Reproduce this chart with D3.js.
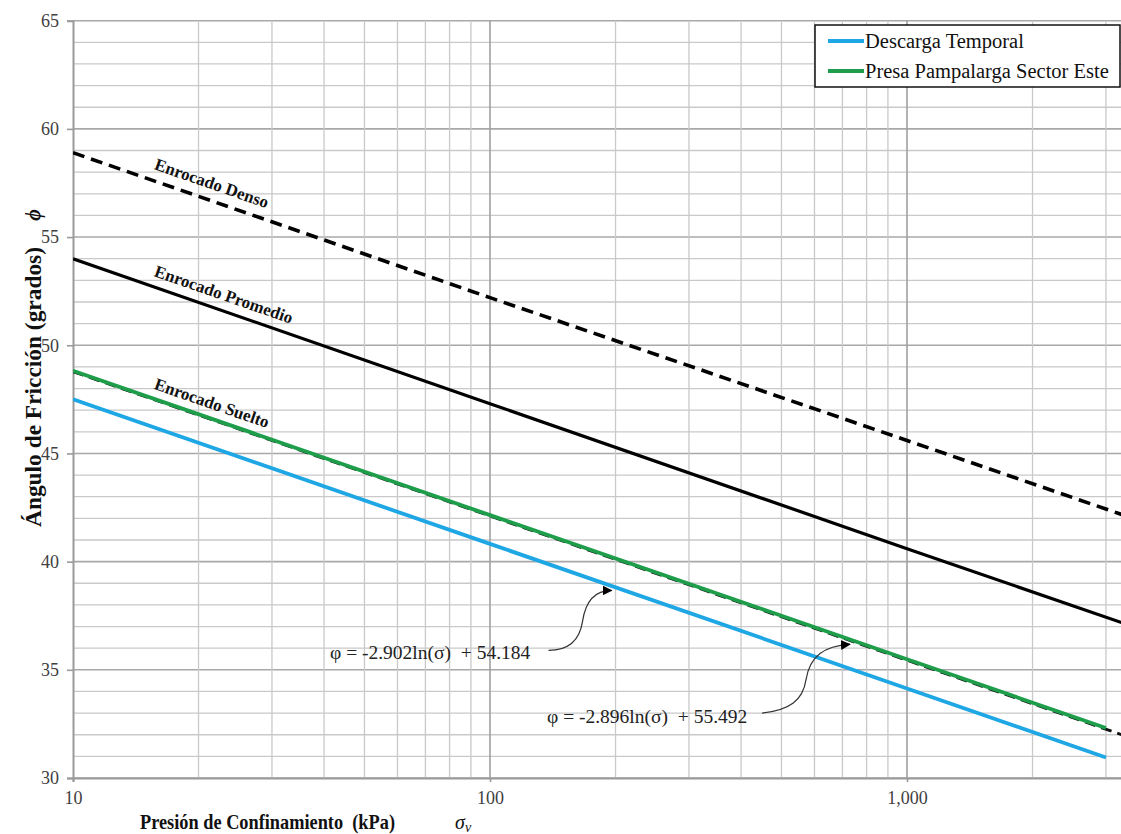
<!DOCTYPE html>
<html><head><meta charset="utf-8">
<script src="https://cdn.jsdelivr.net/npm/d3@7"></script>
<style>body{margin:0;background:#fff}svg{display:block}</style>
</head><body>
<svg id="c" width="1121" height="834"></svg>
<script>
// ---- data ----
const sigma = [10, 100, 1000, 3000];
const descargaTemporal = [47.50, 40.82, 34.14, 30.95];
const presaPampalarga = [48.82, 42.15, 35.49, 32.31];
const sigmaRef = [10, 100, 1000, 4000];
const enrocadoDenso = [58.9, 52.2, 45.6, 41.6];
const enrocadoPromedio = [54.0, 47.3, 40.6, 36.6];
const enrocadoSuelto = [48.78, 42.11, 35.44, 31.42];
const yTicks = [30, 35, 40, 45, 50, 55, 60, 65];
const xTicks = [10, 100, 1000];
const xTickLabels = ["10", "100", "1,000"];
const legendLabels = ["Descarga Temporal", "Presa Pampalarga Sector Este"];
const eqLabels = ["φ = -2.902ln(σ)  + 54.184", "φ = -2.896ln(σ)  + 55.492"];
const eqTargets = [200, 750];

const svg = d3.select("#c");
const FONT = "'Liberation Serif','Times New Roman',serif";
const L = 73, T = 20.7, B = 778;
const x = d3.scaleLog().domain([10, 4000]).range([L, L + 417 * Math.log10(400)]);
const y = d3.scaleLinear().domain([30, 65]).range([B, T]);
const xMax = 1121;

// grid
const minorY = d3.range(30, 66, 1);
const minorX = [];
[10, 100, 1000].forEach(d => { for (let k = 2; k <= 9; k++) minorX.push(d * k); });
const g = svg.append("g");
g.selectAll(".hy").data(minorY).join("line")
  .attr("x1", L).attr("x2", xMax).attr("y1", d => y(d)).attr("y2", d => y(d))
  .attr("stroke", d => d % 5 === 0 ? "#a8a8a8" : "#c9c9c9").attr("stroke-width", d => d % 5 === 0 ? 1.6 : 1.3);
g.selectAll(".vx").data(minorX.concat([100, 1000])).join("line")
  .attr("y1", T).attr("y2", B).attr("x1", d => x(d)).attr("x2", d => x(d))
  .attr("stroke", d => (d === 100 || d === 1000) ? "#a0a0a0" : "#c9c9c9")
  .attr("stroke-width", d => (d === 100 || d === 1000) ? 1.6 : 1.3);

// axes
const yAxis = svg.append("g").attr("transform", `translate(${L},0)`)
  .call(d3.axisLeft(y).tickValues(yTicks).tickSize(6).tickPadding(8));
yAxis.attr("font-family", FONT);
yAxis.select(".domain").attr("stroke", "#9a9a9a").attr("stroke-width", 2);
yAxis.selectAll(".tick line").attr("stroke", "#9a9a9a").attr("stroke-width", 1.6);
yAxis.selectAll(".tick text").attr("font-family", FONT).attr("font-size", 18).attr("fill", "#404040");

const xAxis = svg.append("g").attr("transform", `translate(0,${B})`)
  .call(d3.axisBottom(x).tickValues(xTicks).tickFormat((d, i) => xTickLabels[i]).tickSize(4).tickPadding(9));
xAxis.attr("font-family", FONT);
xAxis.select(".domain").attr("stroke", "#9a9a9a").attr("stroke-width", 2);
xAxis.selectAll(".tick line").attr("stroke", "#9a9a9a").attr("stroke-width", 1.6);
xAxis.selectAll(".tick text").attr("font-family", FONT).attr("font-size", 18).attr("fill", "#404040");

// lines
const clip = svg.append("clipPath").attr("id", "pc").append("rect")
  .attr("x", L).attr("y", 0).attr("width", xMax - L).attr("height", B);
const lineGen = (xs) => d3.line().x((d, i) => x(xs[i])).y(d => y(d));
const lg = svg.append("g").attr("clip-path", "url(#pc)");
const series = [
  {v: enrocadoSuelto, xs: sigmaRef, c: "#111", w: 2.8, dash: "11,6"},
  {v: enrocadoDenso, xs: sigmaRef, c: "#000", w: 3.6, dash: "12,7"},
  {v: enrocadoPromedio, xs: sigmaRef, c: "#000", w: 3.2, dash: null},
  {v: descargaTemporal, xs: sigma, c: "#1ea7e4", w: 3.8, dash: null},
  {v: presaPampalarga, xs: sigma, c: "#1e9e4a", w: 3.8, dash: null}
];
series.forEach(s => {
  lg.append("path").datum(s.v).attr("d", lineGen(s.xs)).attr("fill", "none")
    .attr("stroke", s.c).attr("stroke-width", s.w).attr("stroke-dasharray", s.dash);
});

// line labels
function placeLabel(vals, xs, text, px, off) {
  const p0 = [x(xs[0]), y(vals[0])], p1 = [x(xs[1]), y(vals[1])];
  const ang = Math.atan2(p1[1] - p0[1], p1[0] - p0[0]);
  const t = (px - p0[0]) / (p1[0] - p0[0]);
  const py = p0[1] + t * (p1[1] - p0[1]);
  svg.append("text").attr("transform", `translate(${px},${py}) rotate(${ang * 180 / Math.PI})`)
    .attr("y", -off).attr("font-family", FONT).attr("font-weight", "bold").attr("font-size", 17)
    .attr("fill", "#111").text(text);
}
placeLabel(enrocadoDenso, sigmaRef, "Enrocado Denso", 150, 11);
placeLabel(enrocadoPromedio, sigmaRef, "Enrocado Promedio", 150, 10);
placeLabel(enrocadoSuelto, sigmaRef, "Enrocado Suelto", 150, 10);

// legend
const leg = svg.append("g");
leg.append("rect").attr("x", 815).attr("y", 25).attr("width", 305).attr("height", 62)
  .attr("fill", "#fff").attr("stroke", "#111").attr("stroke-width", 1.5);
[["#1ea7e4", 41], ["#1e9e4a", 71]].forEach((r, i) => {
  leg.append("line").attr("x1", 828).attr("x2", 864).attr("y1", r[1]).attr("y2", r[1])
    .attr("stroke", r[0]).attr("stroke-width", 3.8);
  leg.append("text").attr("x", 865).attr("y", r[1] + 7).attr("font-family", FONT)
    .attr("font-size", 20.5).attr("fill", "#111").text(legendLabels[i]);
});

// annotations
svg.append("defs").append("marker").attr("id", "ah").attr("viewBox", "0 0 10 10")
  .attr("refX", 9).attr("refY", 5).attr("markerWidth", 10).attr("markerHeight", 10)
  .attr("markerUnits", "userSpaceOnUse").attr("orient", "auto")
  .append("path").attr("d", "M0,0 L10,5 L0,10 Z").attr("fill", "#000");
const annSeries = [descargaTemporal, presaPampalarga];
function interpAt(vals, xs, s) {
  const lx = Math.log10(s);
  for (let i = 0; i < xs.length - 1; i++) {
    const a = Math.log10(xs[i]), b = Math.log10(xs[i + 1]);
    if (lx >= a && lx <= b) return vals[i] + (vals[i + 1] - vals[i]) * (lx - a) / (b - a);
  }
  return vals[vals.length - 1];
}
const annGeom = [
  {tx: 330, ty: 659, path: [[-67, 61], [-47, 61], [-36, 52], [-33, 32], [-30, 12], [-20, 1], [-4, 1]]},
  {tx: 547, ty: 723, path: [[-93, 70], [-65, 67], [-52, 57], [-49, 37], [-45, 12], [-30, 3], [-5, 1]]}
];
eqTargets.forEach((s, i) => {
  const tipX = x(s), tipY = y(interpAt(annSeries[i], sigma, s)) + 2;
  const p = annGeom[i].path.map(d => [tipX + d[0], tipY + d[1]]);
  const d = `M${p[0]} C${p[1]} ${p[2]} ${p[3]} C${p[4]} ${p[5]} ${p[6]}`;
  svg.append("path").attr("d", d).attr("fill", "none").attr("stroke", "#333")
    .attr("stroke-width", 1.2).attr("marker-end", "url(#ah)");
  svg.append("text").attr("x", annGeom[i].tx).attr("y", annGeom[i].ty)
    .attr("font-family", FONT).attr("font-size", 19.5).attr("fill", "#222")
    .attr("xml:space", "preserve").style("white-space", "pre").text(eqLabels[i]);
});

// axis titles
svg.append("text").attr("x", 140).attr("y", 829).attr("font-family", FONT).attr("font-weight", "bold")
  .attr("font-size", 21).attr("textLength", 255).attr("lengthAdjust", "spacingAndGlyphs")
  .attr("fill", "#111").style("white-space", "pre").text("Presión de Confinamiento  (kPa)");
const sv = svg.append("text").attr("x", 455).attr("y", 829).attr("font-family", FONT)
  .attr("font-style", "italic").attr("font-size", 20).attr("fill", "#111");
sv.append("tspan").text("σ");
sv.append("tspan").attr("font-size", 14).attr("dy", 3).text("v");

svg.append("text").attr("transform", "translate(41,387) rotate(-90)").attr("text-anchor", "middle")
  .attr("font-family", FONT).attr("font-weight", "bold").attr("font-size", 23)
  .attr("textLength", 280).attr("lengthAdjust", "spacingAndGlyphs")
  .attr("fill", "#111").text("Ángulo de Fricción (grados)");
svg.append("text").attr("transform", "translate(40,215) rotate(-90)").attr("text-anchor", "middle")
  .attr("font-family", FONT).attr("font-weight", "bold").attr("font-style", "italic").attr("font-size", 20)
  .attr("fill", "#111").text("ϕ");
</script>
</body></html>
